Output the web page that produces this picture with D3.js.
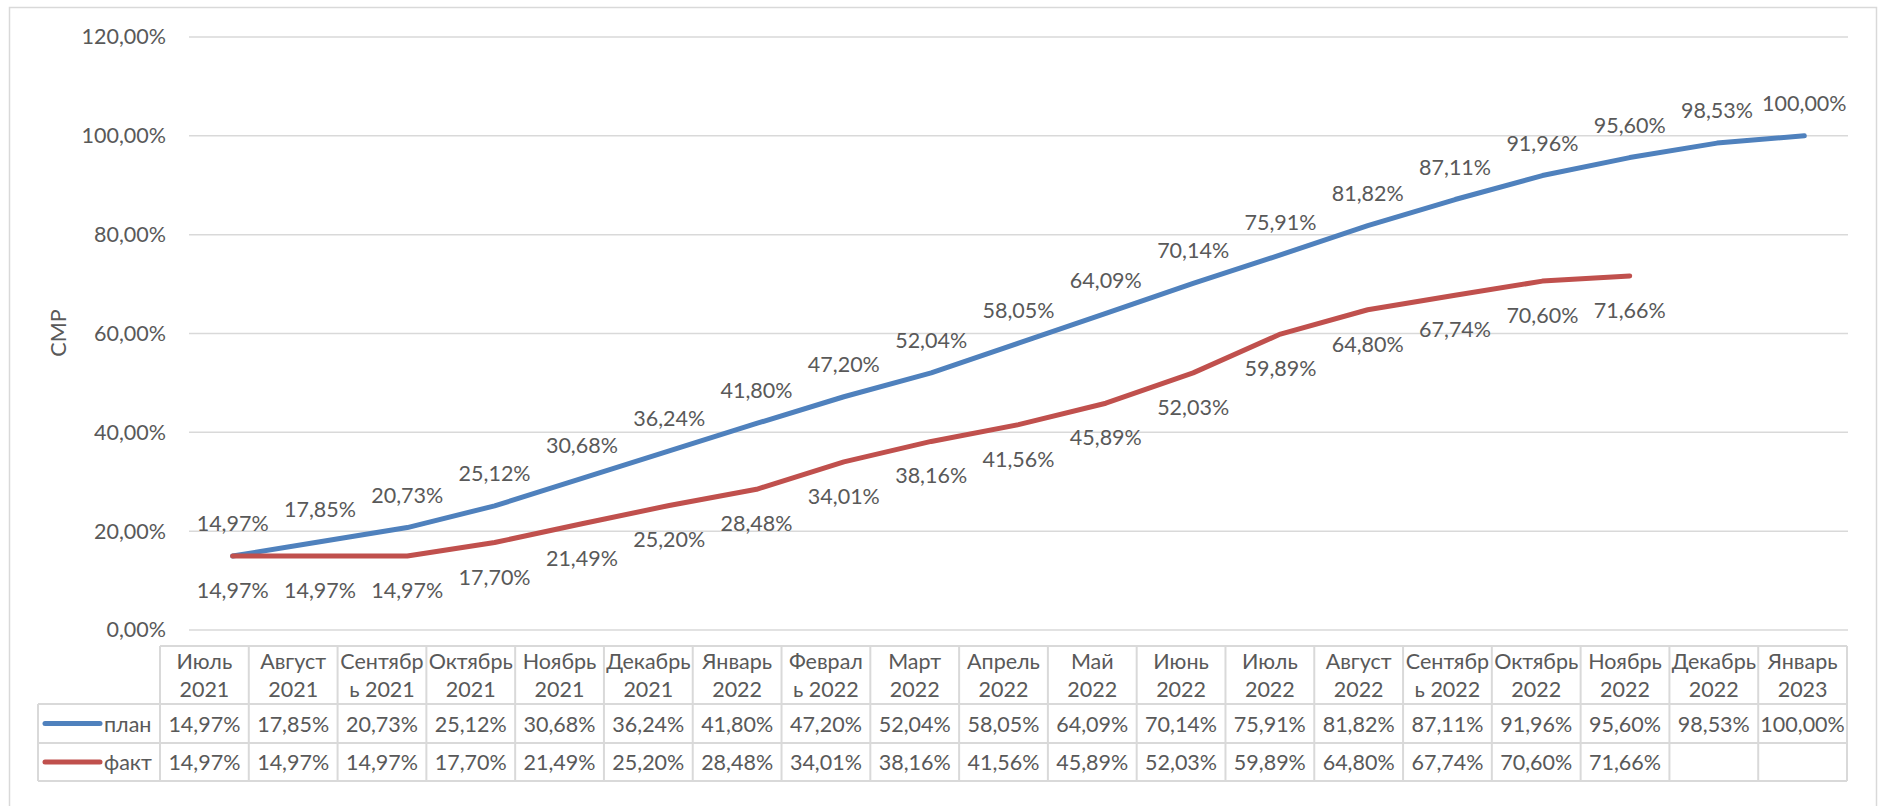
<!DOCTYPE html>
<html>
<head>
<meta charset="utf-8">
<script src="https://cdn.jsdelivr.net/npm/d3@7"></script>
<style>
  body { margin: 0; background: #fff; }
  svg { display: block; font-family: Lato, "Noto Sans", sans-serif; }
</style>
</head>
<body>
<svg id="chart" width="1883" height="806"></svg>
<script>
//Chart data
var months = ["Июль 2021","Август 2021","Сентябрь 2021","Октябрь 2021","Ноябрь 2021","Декабрь 2021",
              "Январь 2022","Февраль 2022","Март 2022","Апрель 2022","Май 2022","Июнь 2022","Июль 2022",
              "Август 2022","Сентябрь 2022","Октябрь 2022","Ноябрь 2022","Декабрь 2022","Январь 2023"];
//Wrapped header text as it shows in the table
var monthLines = [["Июль","2021"],["Август","2021"],["Сентябр","ь 2021"],["Октябрь","2021"],["Ноябрь","2021"],
                  ["Декабрь","2021"],["Январь","2022"],["Феврал","ь 2022"],["Март","2022"],["Апрель","2022"],
                  ["Май","2022"],["Июнь","2022"],["Июль","2022"],["Август","2022"],["Сентябр","ь 2022"],
                  ["Октябрь","2022"],["Ноябрь","2022"],["Декабрь","2022"],["Январь","2023"]];
var plan = [14.97,17.85,20.73,25.12,30.68,36.24,41.80,47.20,52.04,58.05,64.09,70.14,75.91,81.82,87.11,91.96,95.60,98.53,100.00];
var fact = [14.97,14.97,14.97,17.70,21.49,25.20,28.48,34.01,38.16,41.56,45.89,52.03,59.89,64.80,67.74,70.60,71.66,null,null];
var yTicks = [0,20,40,60,80,100,120];
var seriesNames = ["план","факт"];
var seriesColors = ["#4f81bd","#c0504d"];

var textColor = "#595959";
var gridColor = "#d9d9d9";
var fontSize = "21.5px";

var svg = d3.select("#chart");

//Outer chart frame
svg.append("rect")
    .attr("x", 9.5).attr("y", 7.5)
    .attr("width", 1867).attr("height", 810)
    .attr("fill", "none").attr("stroke", gridColor).attr("stroke-width", 1.5);

//Scales
var x = d3.scaleBand().domain(d3.range(months.length)).range([189, 1848]);
var y = d3.scaleLinear().domain([0, 120]).range([630, 37]);
var tableX = d3.scaleBand().domain(d3.range(months.length)).range([160, 1847]);

function fmt(v) {
    return v.toFixed(2).replace(".", ",") + "%";
}

//Gridlines
svg.append("g").selectAll("line")
    .data(yTicks).enter().append("line")
    .attr("x1", 189).attr("x2", 1848)
    .attr("y1", function(d) { return y(d); })
    .attr("y2", function(d) { return y(d); })
    .attr("stroke", gridColor).attr("stroke-width", 1.5);

//Y axis built with d3 axis, then styled like Excel
var yAxis = svg.append("g")
    .attr("transform", "translate(166,0)")
    .call(d3.axisLeft(y).tickValues(yTicks).tickSize(0).tickPadding(0).tickFormat(fmt));
yAxis.select(".domain").remove();
yAxis.selectAll("text")
    .attr("fill", textColor)
    .style("font-size", fontSize)
    .style("font-family", "Lato, 'Noto Sans', sans-serif");

//Axis title
svg.append("text")
    .attr("transform", "translate(58,333) rotate(-90)")
    .attr("text-anchor", "middle")
    .attr("dominant-baseline", "central")
    .attr("fill", textColor)
    .style("font-size", fontSize)
    .text("СМР");

//Lines
var line = d3.line()
    .defined(function(d) { return d != null; })
    .x(function(d, i) { return x(i) + x.bandwidth() / 2; })
    .y(function(d) { return y(d); });

[plan, fact].forEach(function(series, s) {
    svg.append("path")
        .datum(series)
        .attr("d", line)
        .attr("fill", "none")
        .attr("stroke", seriesColors[s])
        .attr("stroke-width", 5)
        .attr("stroke-linejoin", "round")
        .attr("stroke-linecap", "round");
});

//Data labels: plan above, fact below
[plan, fact].forEach(function(series, s) {
    svg.append("g").selectAll("text")
        .data(series.map(function(v, i) { return {v: v, i: i}; }).filter(function(d) { return d.v != null; }))
        .enter().append("text")
        .attr("x", function(d) { return x(d.i) + x.bandwidth() / 2; })
        .attr("y", function(d) { return y(d.v) + (s == 0 ? -33 : 34); })
        .attr("text-anchor", "middle")
        .attr("dominant-baseline", "central")
        .attr("fill", textColor)
        .style("font-size", fontSize)
        .text(function(d) { return fmt(d.v); });
});

//Data table
var table = svg.append("g");
var headTop = 646, row1 = 704, row2 = 743, tableBottom = 781, legendLeft = 38;

function border(x1, y1, x2, y2) {
    table.append("line")
        .attr("x1", x1).attr("y1", y1).attr("x2", x2).attr("y2", y2)
        .attr("stroke", gridColor).attr("stroke-width", 2);
}

//Horizontal borders
border(160, headTop, 1847, headTop);
border(legendLeft, row1, 1847, row1);
border(legendLeft, row2, 1847, row2);
border(legendLeft, tableBottom, 1847, tableBottom);
//Vertical borders
border(legendLeft, row1, legendLeft, tableBottom);
tableX.domain().forEach(function(i) {
    border(tableX(i), headTop, tableX(i), tableBottom);
});
border(1847, headTop, 1847, tableBottom);

//Header cells
var headers = table.append("g").selectAll("g")
    .data(monthLines).enter().append("g");
headers.each(function(lines, i) {
    d3.select(this).selectAll("text")
        .data(lines).enter().append("text")
        .attr("x", tableX(i) + tableX.bandwidth() / 2)
        .attr("y", function(d, k) { return 661 + k * 28; })
        .attr("text-anchor", "middle")
        .attr("dominant-baseline", "central")
        .attr("fill", textColor)
        .style("font-size", fontSize)
        .text(String);
});

//Value rows with legend keys
[plan, fact].forEach(function(series, s) {
    var cy = s == 0 ? (row1 + row2) / 2 : (row2 + tableBottom) / 2;

    table.append("line")
        .attr("x1", 45).attr("x2", 100)
        .attr("y1", cy).attr("y2", cy)
        .attr("stroke", seriesColors[s])
        .attr("stroke-width", 5)
        .attr("stroke-linecap", "round");

    table.append("text")
        .attr("x", 104).attr("y", cy)
        .attr("dominant-baseline", "central")
        .attr("fill", textColor)
        .style("font-size", fontSize)
        .text(seriesNames[s]);

    table.append("g").selectAll("text")
        .data(series.map(function(v, i) { return {v: v, i: i}; }).filter(function(d) { return d.v != null; }))
        .enter().append("text")
        .attr("x", function(d) { return tableX(d.i) + tableX.bandwidth() / 2; })
        .attr("y", cy)
        .attr("text-anchor", "middle")
        .attr("dominant-baseline", "central")
        .attr("fill", textColor)
        .style("font-size", fontSize)
        .text(function(d) { return fmt(d.v); });
});
</script>
</body>
</html>
